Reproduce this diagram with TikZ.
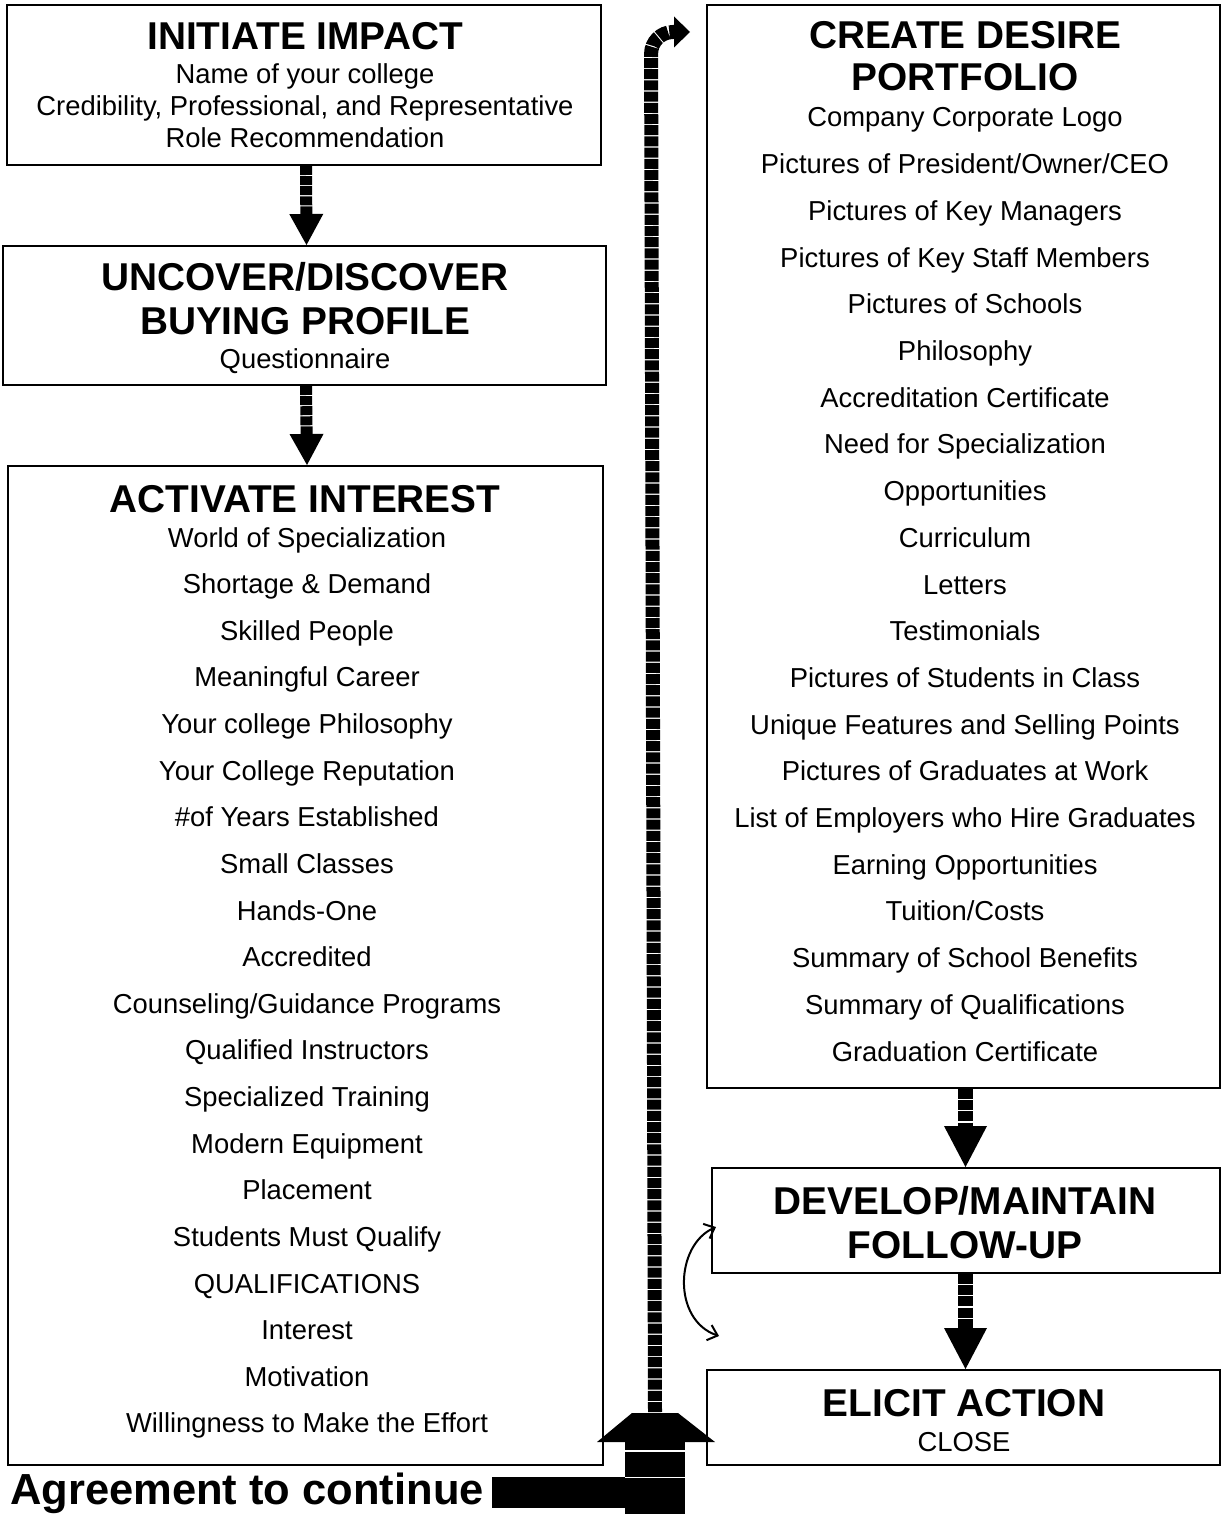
\documentclass[tikz,border=0pt]{standalone}
\usepackage{fontspec}
\setmainfont{Liberation Sans}
\usetikzlibrary{arrows.meta}
\begin{document}
\begin{tikzpicture}[x=1pt,y=-1pt,
  box/.style={draw,line width=2pt,inner sep=0pt},
  ttl/.style={anchor=base,font=\fontsize{38.8}{40}\selectfont\bfseries,inner sep=0pt},
  itm/.style={anchor=base,font=\fontsize{27.4}{30}\selectfont,inner sep=0pt},
  downarr/.style={line width=12pt,dash pattern=on 9pt off 1.1pt,
     -{Triangle[width=34pt,length=31pt,line width=0pt]}},
  rightarr/.style={line width=15pt,dash pattern=on 10pt off 1.2pt,
     -{Triangle[width=43pt,length=41pt,line width=0pt]}},
  bigshaft/.style={line width=14pt,dash pattern=on 10pt off 1.2pt,rounded corners=22pt,
     -{Triangle[width=31pt,length=16pt,line width=0pt]}},
  twoway/.style={line width=2pt,{Straight Barb[length=9pt,width=16pt]}-{Straight Barb[length=9pt,width=16pt]}}
]
\useasboundingbox (0,0) rectangle (1222,1514);

% boxes
\node[box,minimum width=594pt,minimum height=160pt] (b1) at (304,85) {};
\node[box,minimum width=603pt,minimum height=139pt] (b2) at (304.5,315.5) {};
\node[box,minimum width=595pt,minimum height=999pt] (b3) at (305.5,965.5) {};
\node[box,minimum width=513pt,minimum height=1083pt] (b4) at (963.5,546.5) {};
\node[box,minimum width=508pt,minimum height=105pt] (b5) at (966,1220.5) {};
\node[box,minimum width=513pt,minimum height=95pt] (b6) at (963.5,1417.5) {};

% box 1 text
\node[ttl] (t1) at (305,50) {INITIATE IMPACT};
\node[itm] (t1a) at (305,84) {Name of your college};
\node[itm] (t1b) at (305,116) {Credibility, Professional, and Representative};
\node[itm] (t1c) at (305,148) {Role Recommendation};

% box 2 text
\node[ttl] (t2) at (305,290) {UNCOVER/DISCOVER};
\node[ttl] (t2b) at (305,334) {BUYING PROFILE};
\node[itm] (t2c) at (305,368) {Questionnaire};

% box 3 text
\node[ttl] (t3) at (305,512) {ACTIVATE INTEREST};
\foreach \t [count=\i] in {World of Specialization, Shortage \& Demand, Skilled People,
  Meaningful Career, Your college Philosophy, Your College Reputation,
  \#of Years Established, Small Classes, Hands-One, Accredited,
  Counseling/Guidance Programs, Qualified Instructors, Specialized Training,
  Modern Equipment, Placement, Students Must Qualify, QUALIFICATIONS,
  Interest, Motivation, Willingness to Make the Effort}
  \node[itm] (a\i) at (307,{547+(\i-1)*46.63}) {\t};

% box 4 text
\node[ttl] (t4) at (965,49) {CREATE DESIRE};
\node[ttl] (t4b) at (965,91) {PORTFOLIO};
\foreach \t [count=\i] in {Company Corporate Logo, Pictures of President/Owner/CEO,
  Pictures of Key Managers, Pictures of Key Staff Members, Pictures of Schools,
  Philosophy, Accreditation Certificate, Need for Specialization, Opportunities,
  Curriculum, Letters, Testimonials, Pictures of Students in Class,
  Unique Features and Selling Points, Pictures of Graduates at Work,
  List of Employers who Hire Graduates, Earning Opportunities, Tuition/Costs,
  Summary of School Benefits, Summary of Qualifications, Graduation Certificate}
  \node[itm] (d\i) at (965,{127+(\i-1)*46.7}) {\t};

% box 5 / 6 text
\node[ttl] (t5) at (965,1214) {DEVELOP/MAINTAIN};
\node[ttl] (t5b) at (965,1258) {FOLLOW-UP};
\node[ttl] (t6) at (964,1416) {ELICIT ACTION};
\node[itm] (t6b) at (964,1451) {CLOSE};

% down arrows
\draw[downarr] ([xshift=2pt]b1.south) -- ([xshift=2pt]b2.north);
\draw[downarr] ([xshift=1.5pt]b2.south) -- ([xshift=1.5pt]b3.north);
\draw[rightarr] ([xshift=2pt]b4.south) -- ([xshift=-0.5pt]b5.north);
\draw[rightarr] ([xshift=-0.5pt]b5.south) -- ([xshift=2pt]b6.north);

% agreement bar and big upward arrow
\node[anchor=base west,inner sep=0pt,font=\fontsize{43.5}{46}\selectfont\bfseries] (agree) at (10,1504) {Agreement to continue};
\coordinate (hd) at (656,1442);
\coordinate (hdtop) at (655,1413);
\coordinate (bend) at (651,32);
\coordinate (tipend) at (690,32);
\fill ([xshift=8pt]agree.east |- 0,1477) rectangle (685,1508);
\fill (625,1442) rectangle (685,1514);
\draw[white,line width=1.2pt] (625,1451) -- (685,1451);
\draw[white,line width=1.2pt] (625,1477.5) -- (685,1477.5);
\fill ([xshift=-59pt]hd) -- ([xshift=59pt]hd) -- ([xshift=23pt]hdtop) -- ([xshift=-23pt]hdtop) -- cycle;
\draw[bigshaft] ([yshift=1pt]hdtop) -- (bend) -- (tipend);

% two-way curved arrow
\coordinate (ca) at (716,1227);
\coordinate (cb) at (719,1336);
\draw[twoway] (ca) .. controls (675,1245) and (672,1320) .. (cb);
\end{tikzpicture}
\end{document}
